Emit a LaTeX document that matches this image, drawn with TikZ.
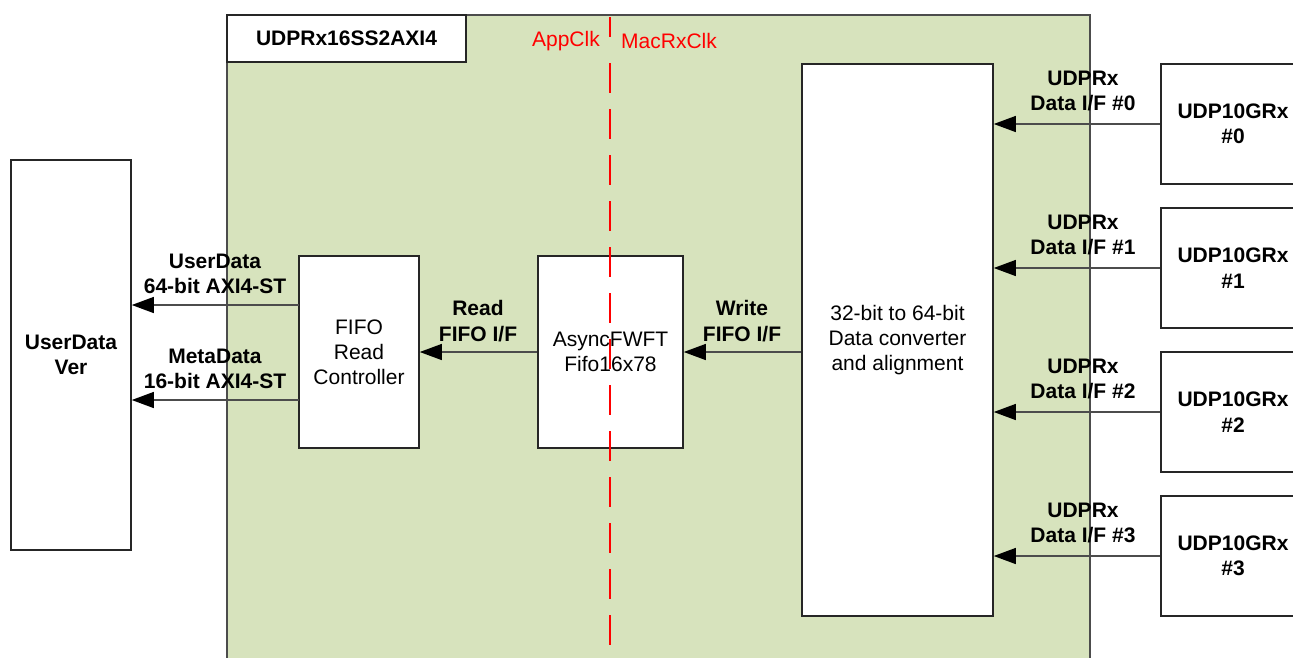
\documentclass[tikz,border=0pt]{standalone}
\usepackage{fontspec}
\setmainfont{Liberation Sans}
\usetikzlibrary{arrows.meta}
\definecolor{grn}{RGB}{215,227,189}
\begin{document}
\begin{tikzpicture}[x=1pt,y=-1pt,
 blk/.style={draw=black!85, line width=1.6pt, fill=white, inner sep=0pt, align=center, font=\fontsize{21}{25}\selectfont},
 bblk/.style={blk, font=\bfseries\fontsize{21}{25.5}\selectfont},
 lbl/.style={align=center, inner sep=0pt, font=\bfseries\fontsize{21}{25.5}\selectfont},
 clk/.style={inner sep=0pt, text=red, font=\fontsize{21}{23}\selectfont},
 conn/.style={draw=black!70, line width=1.3pt, -{Triangle[length=22pt,width=16pt,color=black]}},
 redline/.style={draw=red, line width=1.5pt}]
\useasboundingbox (0,0) rectangle (1293,657);
% main green block
\fill[grn] (227,15) rectangle (1090,670);
\draw[black!70, line width=1.3pt] (227,670) -- (227,15) -- (1090,15) -- (1090,670);
\node[bblk, minimum width=239pt, minimum height=47pt] (title) at (346.5,38.5) {UDPRx16SS2AXI4};
% blocks
\node[bblk, minimum width=120pt, minimum height=390pt] (uv) at (71,355) {UserData\\Ver};
\node[blk, minimum width=120pt, minimum height=192pt] (frc) at (359,352) {FIFO\\Read\\Controller};
\node[blk, minimum width=145pt, minimum height=192pt] (af) at (610.5,352) {};
\node[blk, minimum width=191pt, minimum height=552pt] (conv) at (897.5,340) {32-bit to 64-bit\\Data converter\\and alignment};
\node[bblk, minimum width=144pt, minimum height=120pt] (u0) at (1233,124) {UDP10GRx\\\#0};
\node[bblk, minimum width=144pt, minimum height=120pt] (u1) at (1233,268) {UDP10GRx\\\#1};
\node[bblk, minimum width=144pt, minimum height=120pt] (u2) at (1233,412) {UDP10GRx\\\#2};
\node[bblk, minimum width=144pt, minimum height=120pt] (u3) at (1233,556) {UDP10GRx\\\#3};
% clock boundary
\coordinate (rtop) at (610,17);
\coordinate (rmid) at (610,37);
\coordinate (rlow) at (610,63);
\coordinate (rbot) at (610,660);
\draw[redline] (rtop) -- (rmid);
\draw[redline, dash pattern=on 30pt off 16pt] (rlow) -- (rbot);
\node[clk, anchor=east] (appclk) at (600,41) {AppClk};
\node[clk, anchor=west] (macclk) at (621,41) {MacRxClk};
\node[inner sep=0pt, align=center, font=\fontsize{21}{25}\selectfont] (aftext) at (af.center) {AsyncFWFT\\Fifo16x78};
% connectors
\coordinate (ud) at (299,305);
\coordinate (md) at (299,400);
\draw[conn] (ud) -- (ud -| uv.east);
\draw[conn] (md) -- (md -| uv.east);
\draw[conn] (af.west) -- (frc.east);
\draw[conn] (conv.west |- af.east) -- (af.east);
\draw[conn] (u0.west) -- (u0.west -| conv.east);
\draw[conn] (u1.west) -- (u1.west -| conv.east);
\draw[conn] (u2.west) -- (u2.west -| conv.east);
\draw[conn] (u3.west) -- (u3.west -| conv.east);
% labels
\node[lbl] (lud) at (215,274) {UserData\\64-bit AXI4-ST};
\node[lbl] (lmd) at (215,369) {MetaData\\16-bit AXI4-ST};
\node[lbl] (lrd) at (478,321) {Read\\FIFO I/F};
\node[lbl] (lwr) at (742,321) {Write\\FIFO I/F};
\node[lbl] (l0) at (1083,91) {UDPRx\\Data I/F \#0};
\node[lbl] (l1) at (1083,235) {UDPRx\\Data I/F \#1};
\node[lbl] (l2) at (1083,379) {UDPRx\\Data I/F \#2};
\node[lbl] (l3) at (1083,523) {UDPRx\\Data I/F \#3};
\end{tikzpicture}
\end{document}
